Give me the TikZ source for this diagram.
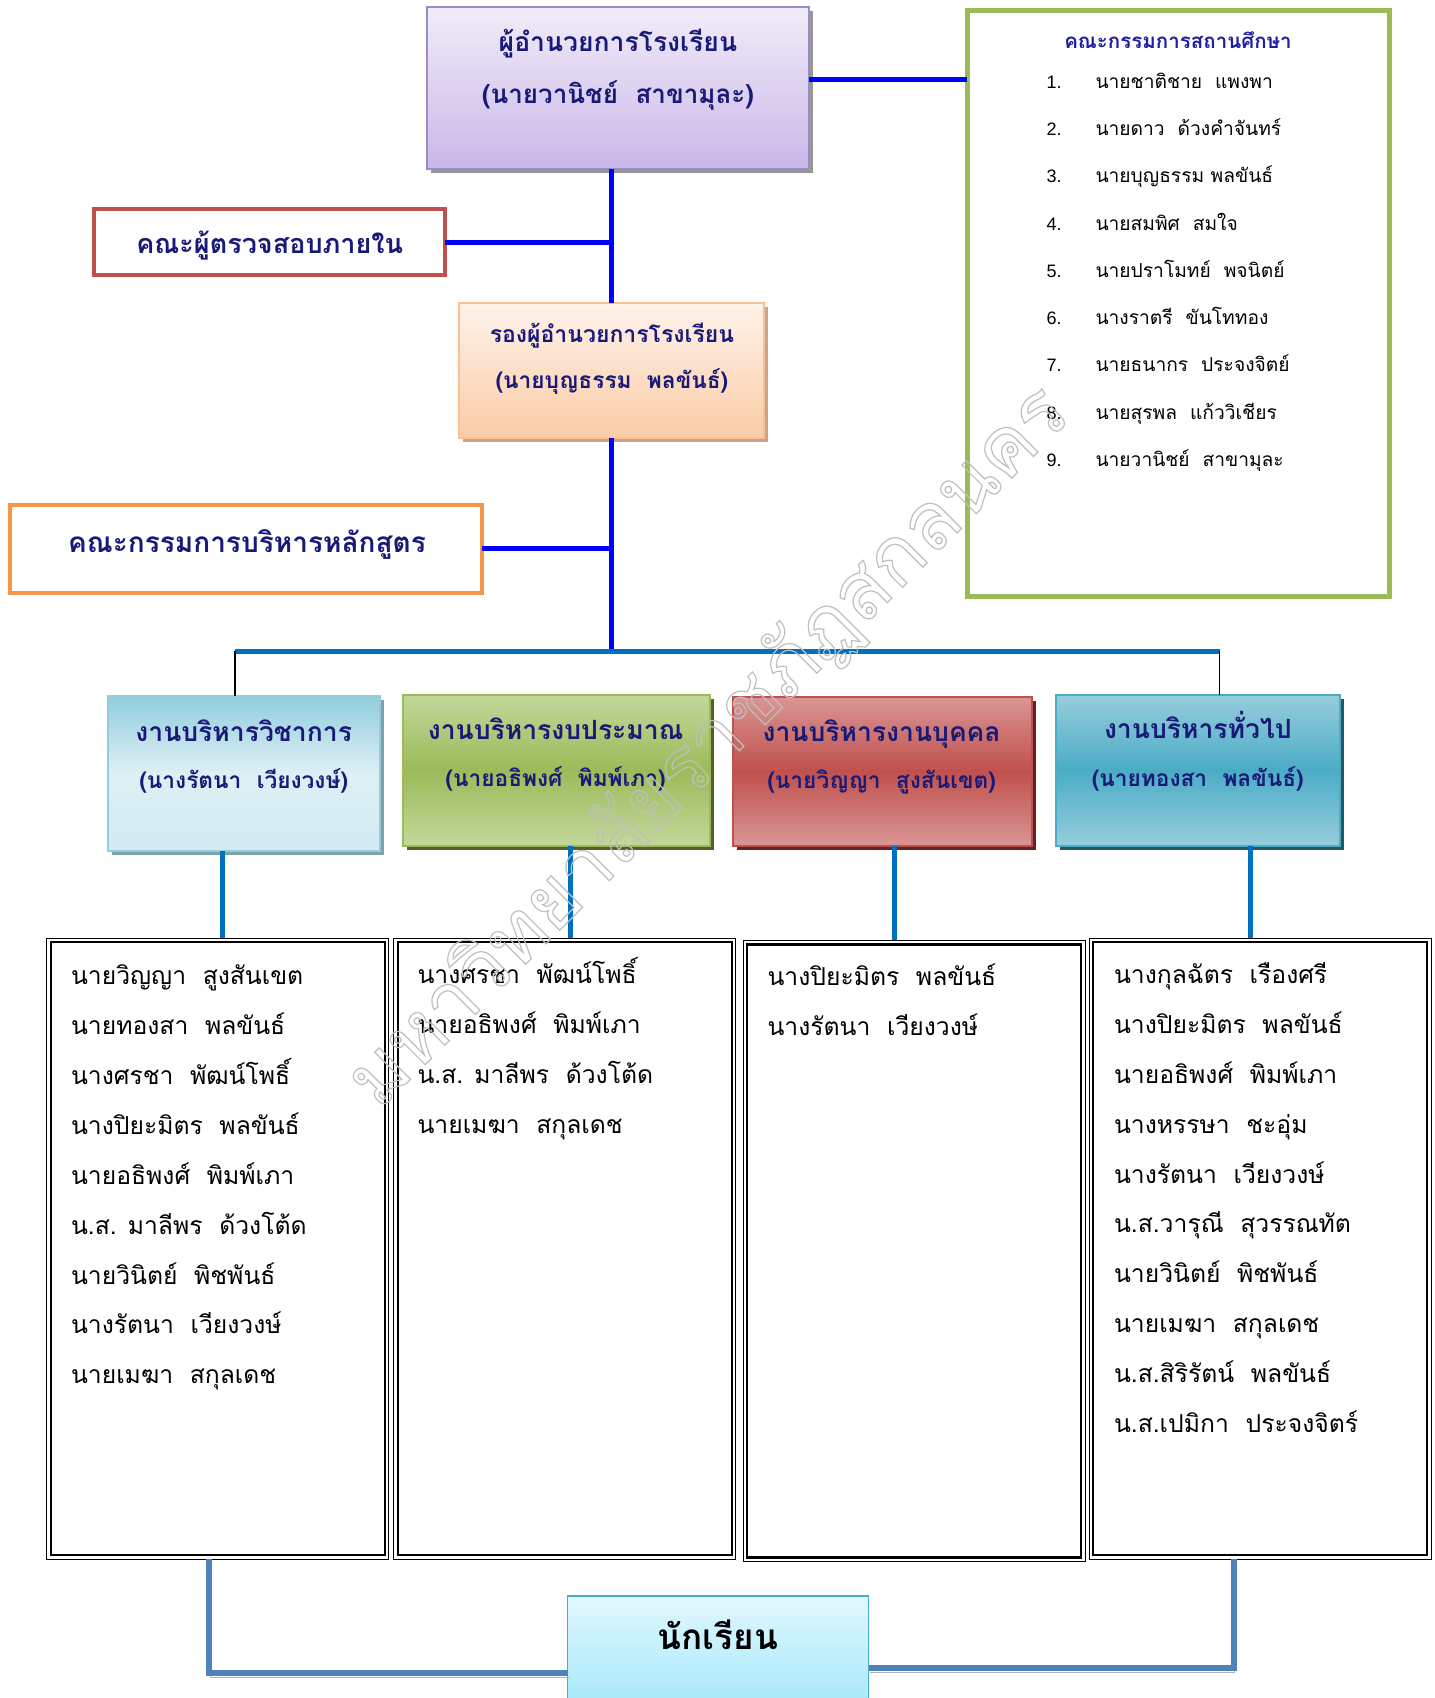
\documentclass[tikz,border=0pt]{standalone}
\usepackage{fontspec}
\setmainfont{Liberation Sans}
\newfontfamily\thai[Script=Thai]{Loma}
\usetikzlibrary{shadows}
\definecolor{navy}{RGB}{25,25,120}
\definecolor{ttl}{RGB}{30,30,165}
\definecolor{blu}{RGB}{0,0,255}
\definecolor{mid}{RGB}{0,112,192}
\definecolor{low}{RGB}{79,129,189}
\definecolor{pu1}{RGB}{241,236,249}
\definecolor{pu2}{RGB}{202,184,232}
\definecolor{pu3}{RGB}{155,140,200}
\definecolor{or1}{RGB}{254,242,234}
\definecolor{or2}{RGB}{250,204,166}
\definecolor{or3}{RGB}{250,192,143}
\definecolor{orb}{RGB}{247,150,70}
\definecolor{rdb}{RGB}{192,80,77}
\definecolor{grb}{RGB}{155,187,89}
\definecolor{aq1}{RGB}{222,240,246}
\definecolor{aq2}{RGB}{146,205,221}
\definecolor{gn1}{RGB}{196,215,155}
\definecolor{rd1}{RGB}{218,150,148}
\definecolor{tl1}{RGB}{150,205,220}
\definecolor{tl2}{RGB}{75,172,198}
\definecolor{cy1}{RGB}{224,248,254}
\definecolor{cy2}{RGB}{165,232,250}
\definecolor{sh1}{RGB}{150,150,150}
\definecolor{sh2}{RGB}{200,165,140}
\definecolor{sh3}{RGB}{128,160,170}
\definecolor{sh4}{RGB}{79,98,40}
\definecolor{sh5}{RGB}{99,36,35}
\definecolor{sh6}{RGB}{33,89,104}
\newcommand{\fsz}[1]{\fontsize{#1pt}{#1pt}\selectfont}
\begin{document}
\begin{tikzpicture}[x=1pt,y=-1pt,
  box/.style={inner sep=0pt, outer sep=0pt},
  shd/.style={general shadow={fill=#1, shadow xshift=4pt, shadow yshift=-4pt}},
  fr/.style 2 args={box, draw=#1, line width=#2, fill=white},
  dv/.style n args={3}{box, shd=#3, draw=#2, line width=2pt, top color=#1, bottom color=#1, middle color=#2},
  hd/.style={anchor=base, font=\thai\bfseries\fsz{#1}, text=navy},
  nm/.style={anchor=base west, font=\thai\fsz{#1}},
  bl/.style={line width=5pt, blu},
  md/.style={line width=5pt, mid},
  lw/.style={line width=6pt, low, preaction={draw=black!30, transform canvas={xshift=1pt, yshift=-4pt}}},
  lst/.style={box, draw, line width=1pt, minimum width=342pt, minimum height=621pt}]
\useasboundingbox (0,0) rectangle (1435,1698);

\node [box, shd=sh1, draw=pu3, line width=2pt, top color=pu1, bottom color=pu2,
  minimum width=382pt, minimum height=162pt] (dr) at (617.9,87.8) {};
\node [hd=26.5] (dr1) at (617.9,51.3) {ผู้อำนวยการโรงเรียน};
\node [hd=26] (dr2) at (617.9,103.1) {(นายวานิชย์~~สาขามุละ)};

\node [fr={grb}{5pt}, minimum width=422pt, minimum height=586pt] (cm) at (1178.3,303.8) {};
\node [hd=20.5, text=ttl] (cm0) at (1178,48.4) {คณะกรรมการสถานศึกษา};
\foreach \t [count=\i] in {นายชาติชาย~~แพงพา, นายดาว~~ด้วงคำจันทร์, นายบุญธรรม พลขันธ์,
  นายสมพิศ~~สมใจ, นายปราโมทย์~~พจนิตย์, นางราตรี~~ขันโททอง, นายธนากร~~ประจงจิตย์,
  นายสุรพล~~แก้ววิเชียร, นายวานิชย์~~สาขามุละ}{
  \node [anchor=base, font=\fsz{18}] (n\i) at (1054,88.3+47.25*\i-47.25) {\i.};
  \node [nm=19.2] (k\i) at (1092,88.3+47.25*\i-47.25) {\t};
}

\node [fr={rdb}{4pt}, minimum width=351pt, minimum height=66pt] (ia) at (269.7,242) {};
\node [hd=27] (ia1) at (269.7,253.9) {คณะผู้ตรวจสอบภายใน};

\node [box, shd=sh2, draw=or3, line width=2pt, top color=or1, bottom color=or2,
  minimum width=305pt, minimum height=135pt] (dp) at (611.9,370.9) {};
\node [hd=23] (dp1) at (611.9,342.6) {รองผู้อำนวยการโรงเรียน};
\node [hd=22.7] (dp2) at (611.9,388) {(นายบุญธรรม~~พลขันธ์)};

\node [fr={orb}{4pt}, minimum width=472pt, minimum height=88pt] (cc) at (245.9,548.6) {};
\node [hd=28] (cc1) at (247,552.1) {คณะกรรมการบริหารหลักสูตร};

\node [box, shd=sh3, draw=aq2, line width=2pt, top color=aq2, bottom color=aq1!85!aq2, middle color=aq1,
  minimum width=272pt, minimum height=155pt] (ac) at (244.2,773.9) {};
\node [dv={gn1}{grb}{sh4}, minimum width=307pt, minimum height=151pt] (bu) at (556.7,770) {};
\node [dv={rd1}{rdb}{sh5}, minimum width=299pt, minimum height=149pt] (pe) at (882.7,771.1) {};
\node [dv={tl1}{tl2}{sh6}, minimum width=284pt, minimum height=151pt] (ge) at (1197.9,770) {};
\node [hd=26.5] (ac1) at (243.7,741.2) {งานบริหารวิชาการ};
\node [hd=22.7] (ac2) at (243.7,788.8) {(นางรัตนา~~เวียงวงษ์)};
\node [hd=26.5] (bu1) at (555.6,739) {งานบริหารงบประมาณ};
\node [hd=22.7] (bu2) at (555.6,786.6) {(นายอธิพงศ์~~พิมพ์เภา)};
\node [hd=26.5] (pe1) at (881.6,741.2) {งานบริหารงานบุคคล};
\node [hd=22.7] (pe2) at (881.6,788.8) {(นายวิญญา~~สูงสันเขต)};
\node [hd=26.5] (ge1) at (1197.8,738) {งานบริหารทั่วไป};
\node [hd=22.7] (ge2) at (1197.8,786.6) {(นายทองสา~~พลขันธ์)};

\node [lst] (la) at (217.7,1248.7) {};
\node [lst] (lb) at (564.8,1248.7) {};
\node [lst] (lc) at (914.1,1250.9) {};
\node [lst] (ld) at (1260.1,1248.7) {};
\foreach \l in {la,lb,lc,ld}
  \draw[line width=2.2pt] ([shift={(4pt,-4pt)}]\l.north west) rectangle ([shift={(-4pt,4pt)}]\l.south east);

\foreach \t [count=\i from 0] in {นายวิญญา~~สูงสันเขต, นายทองสา~~พลขันธ์, นางศรชา~~พัฒน์โพธิ์,
  นางปิยะมิตร~~พลขันธ์, นายอธิพงศ์~~พิมพ์เภา, น.ส. มาลีพร~~ด้วงโต้ด, นายวินิตย์~~พิชพันธ์,
  นางรัตนา~~เวียงวงษ์, นายเมฆา~~สกุลเดช}
  \node [nm=24.7] (a\i) at (67.5,984.3+49.95*\i) {\t};
\foreach \t [count=\i from 0] in {นางศรชา~~พัฒน์โพธิ์, นายอธิพงศ์~~พิมพ์เภา, น.ส. มาลีพร~~ด้วงโต้ด,
  นายเมฆา~~สกุลเดช}
  \node [nm=24.7] (b\i) at (414,983.2+49.95*\i) {\t};
\foreach \t [count=\i from 0] in {นางปิยะมิตร~~พลขันธ์, นางรัตนา~~เวียงวงษ์}
  \node [nm=24.7] (c\i) at (764,985.4+49.95*\i) {\t};
\foreach \t [count=\i from 0] in {นางกุลฉัตร~~เรืองศรี, นางปิยะมิตร~~พลขันธ์, นายอธิพงศ์~~พิมพ์เภา,
  นางหรรษา~~ชะอุ่ม, นางรัตนา~~เวียงวงษ์, น.ส.วารุณี~~สุวรรณทัต, นายวินิตย์~~พิชพันธ์,
  นายเมฆา~~สกุลเดช, น.ส.สิริรัตน์~~พลขันธ์, น.ส.เปมิกา~~ประจงจิตร์}
  \node [nm=24.7] (d\i) at (1110.5,983.2+49.95*\i) {\t};

\node [box, draw=tl2, line width=1.5pt, top color=cy1, bottom color=cy2,
  minimum width=301pt, minimum height=114pt] (st) at (718,1653) {};
\node [anchor=base, font=\thai\bfseries\fsz{35}] (st1) at (718,1649) {นักเรียน};

\coordinate (bw) at (235,651);
\coordinate (be) at (1219.5,651);
\draw[bl] ([yshift=8pt]dr.east) -- ([yshift=8pt]dr.east -| cm.west);
\draw[bl] (dr.south -| dp.north) -- (dp.north);
\draw[bl] (ia.east) -- (ia.east -| dp.north);
\draw[bl] (dp.south) -- (dp.south |- bw);
\draw[bl] (cc.east) -- (cc.east -| dp.south);
\draw[md] (bw) -- (be);
\draw[line width=1.2pt] (bw) -- (bw |- ac.north);
\draw[line width=1.2pt] (be) -- (be |- ge.north);
\draw[md] ([xshift=-22pt]ac.south) -- ([xshift=-22pt]ac.south |- la.north);
\draw[md] ([xshift=14pt]bu.south) -- ([xshift=14pt]bu.south |- lb.north);
\draw[md] ([xshift=12pt]pe.south) -- ([xshift=12pt]pe.south |- lc.north);
\draw[md] ([xshift=53pt]ge.south) -- ([xshift=53pt]ge.south |- ld.north);
\draw[lw] ([xshift=-9pt]la.south) |- ([yshift=-20pt]st.west);
\draw[lw] ([xshift=-26.5pt]ld.south) |- ([yshift=-15pt]st.east);

\node [rotate=45, font=\thai\fsz{80}] (wm) at (709,747)
  {\special{pdf:code 1 Tr 1.2 w 0.75 G}มหาวิทยาลัยราชภัฏสกลนคร\special{pdf:code 0 Tr}};
\end{tikzpicture}
\end{document}
